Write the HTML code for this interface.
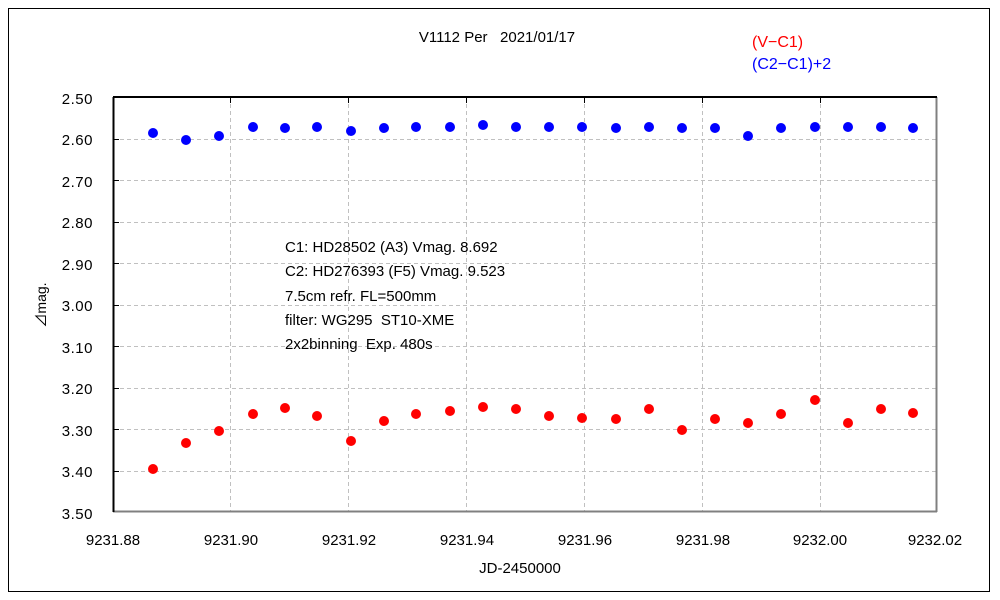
<!DOCTYPE html>
<html><head><meta charset="utf-8"><style>body{margin:0;background:#fff}svg{display:block}text{font-family:"Liberation Sans","Noto Sans CJK JP",sans-serif;white-space:pre}</style></head><body>
<svg width="1000" height="600" xmlns="http://www.w3.org/2000/svg" xml:space="preserve">
<rect x="0" y="0" width="1000" height="600" fill="#fff"/>
<rect x="8.5" y="8.5" width="981" height="583" fill="none" stroke="#000" stroke-width="1"/>
<g stroke="#c0c0c0" stroke-dasharray="4,3" stroke-width="1">
<line x1="230.5" y1="97" x2="230.5" y2="512"/><line x1="348.5" y1="97" x2="348.5" y2="512"/><line x1="466.5" y1="97" x2="466.5" y2="512"/><line x1="584.5" y1="97" x2="584.5" y2="512"/><line x1="702.5" y1="97" x2="702.5" y2="512"/><line x1="820.5" y1="97" x2="820.5" y2="512"/>
<line x1="113" y1="139.5" x2="937" y2="139.5"/><line x1="113" y1="180.5" x2="937" y2="180.5"/><line x1="113" y1="222.5" x2="937" y2="222.5"/><line x1="113" y1="263.5" x2="937" y2="263.5"/><line x1="113" y1="305.5" x2="937" y2="305.5"/><line x1="113" y1="346.5" x2="937" y2="346.5"/><line x1="113" y1="388.5" x2="937" y2="388.5"/><line x1="113" y1="429.5" x2="937" y2="429.5"/><line x1="113" y1="471.5" x2="937" y2="471.5"/>
</g>
<line x1="936.5" y1="97" x2="936.5" y2="512" stroke="#808080" stroke-width="2"/>
<line x1="113" y1="511.5" x2="937" y2="511.5" stroke="#808080" stroke-width="2"/>
<line x1="113" y1="97" x2="937" y2="97" stroke="#000" stroke-width="2"/>
<line x1="113.5" y1="97" x2="113.5" y2="512" stroke="#000" stroke-width="2"/>
<g stroke="#000"><line x1="230.5" y1="97" x2="230.5" y2="103"/><line x1="348.5" y1="97" x2="348.5" y2="103"/><line x1="466.5" y1="97" x2="466.5" y2="103"/><line x1="584.5" y1="97" x2="584.5" y2="103"/><line x1="702.5" y1="97" x2="702.5" y2="103"/><line x1="820.5" y1="97" x2="820.5" y2="103"/>
<line x1="113" y1="139.5" x2="119" y2="139.5"/><line x1="113" y1="180.5" x2="119" y2="180.5"/><line x1="113" y1="222.5" x2="119" y2="222.5"/><line x1="113" y1="263.5" x2="119" y2="263.5"/><line x1="113" y1="305.5" x2="119" y2="305.5"/><line x1="113" y1="346.5" x2="119" y2="346.5"/><line x1="113" y1="388.5" x2="119" y2="388.5"/><line x1="113" y1="429.5" x2="119" y2="429.5"/><line x1="113" y1="471.5" x2="119" y2="471.5"/></g>
<g font-size="15" text-anchor="end" fill="#000" letter-spacing="0.5">
<text x="93" y="104">2.50</text><text x="93" y="145">2.60</text><text x="93" y="187">2.70</text><text x="93" y="228">2.80</text><text x="93" y="270">2.90</text><text x="93" y="311">3.00</text><text x="93" y="353">3.10</text><text x="93" y="394">3.20</text><text x="93" y="436">3.30</text><text x="93" y="477">3.40</text><text x="93" y="519">3.50</text>
</g>
<g font-size="15" text-anchor="middle" fill="#000">
<text x="113" y="545">9231.88</text><text x="231" y="545">9231.90</text><text x="349" y="545">9231.92</text><text x="467" y="545">9231.94</text><text x="585" y="545">9231.96</text><text x="703" y="545">9231.98</text><text x="820" y="545">9232.00</text><text x="935" y="545">9232.02</text>
<text x="520" y="573">JD-2450000</text>
<text x="497" y="42">V1112 Per   2021/01/17</text>
</g>
<text x="0" y="0" font-size="14" text-anchor="middle" transform="translate(46,305) rotate(-90)">⊿mag.</text>
<text x="752" y="47" font-size="16" fill="#ff0000">(V−C1)</text>
<text x="752" y="69" font-size="16" fill="#0000ff">(C2−C1)+2</text>
<g font-size="15" fill="#000">
<text x="285" y="252">C1: HD28502 (A3) Vmag. 8.692</text>
<text x="285" y="276">C2: HD276393 (F5) Vmag. 9.523</text>
<text x="285" y="301">7.5cm refr. FL=500mm</text>
<text x="285" y="325">filter: WG295  ST10-XME</text>
<text x="285" y="349">2x2binning  Exp. 480s</text>
</g>
<g fill="#0000ff">
<circle cx="153" cy="133" r="5"/><circle cx="186" cy="140" r="5"/><circle cx="219" cy="136" r="5"/><circle cx="253" cy="127" r="5"/><circle cx="285" cy="128" r="5"/><circle cx="317" cy="127" r="5"/><circle cx="351" cy="131" r="5"/><circle cx="384" cy="128" r="5"/><circle cx="416" cy="127" r="5"/><circle cx="450" cy="127" r="5"/><circle cx="483" cy="125" r="5"/><circle cx="516" cy="127" r="5"/><circle cx="549" cy="127" r="5"/><circle cx="582" cy="127" r="5"/><circle cx="616" cy="128" r="5"/><circle cx="649" cy="127" r="5"/><circle cx="682" cy="128" r="5"/><circle cx="715" cy="128" r="5"/><circle cx="748" cy="136" r="5"/><circle cx="781" cy="128" r="5"/><circle cx="815" cy="127" r="5"/><circle cx="848" cy="127" r="5"/><circle cx="881" cy="127" r="5"/><circle cx="913" cy="128" r="5"/>
</g>
<g fill="#ff0000">
<circle cx="153" cy="469" r="5"/><circle cx="186" cy="443" r="5"/><circle cx="219" cy="431" r="5"/><circle cx="253" cy="414" r="5"/><circle cx="285" cy="408" r="5"/><circle cx="317" cy="416" r="5"/><circle cx="351" cy="441" r="5"/><circle cx="384" cy="421" r="5"/><circle cx="416" cy="414" r="5"/><circle cx="450" cy="411" r="5"/><circle cx="483" cy="407" r="5"/><circle cx="516" cy="409" r="5"/><circle cx="549" cy="416" r="5"/><circle cx="582" cy="418" r="5"/><circle cx="616" cy="419" r="5"/><circle cx="649" cy="409" r="5"/><circle cx="682" cy="430" r="5"/><circle cx="715" cy="419" r="5"/><circle cx="748" cy="423" r="5"/><circle cx="781" cy="414" r="5"/><circle cx="815" cy="400" r="5"/><circle cx="848" cy="423" r="5"/><circle cx="881" cy="409" r="5"/><circle cx="913" cy="413" r="5"/>
</g>
</svg>
</body></html>
